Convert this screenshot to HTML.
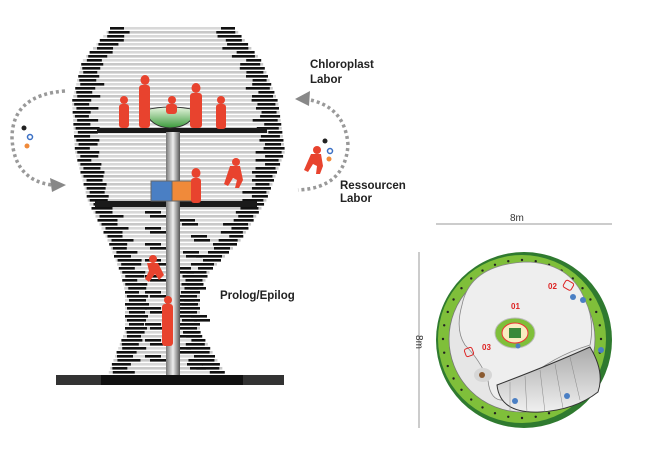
<!DOCTYPE html>
<html><head><meta charset="utf-8"><style>
html,body{margin:0;padding:0;background:#fff;}
svg{display:block;}
text{font-family:"Liberation Sans",sans-serif;}
</style></head><body>
<svg id="s" width="650" height="450" viewBox="0 0 650 450" xmlns="http://www.w3.org/2000/svg">
<defs>
<linearGradient id="pole" x1="0" x2="1"><stop offset="0" stop-color="#777"/><stop offset=".5" stop-color="#eee"/><stop offset="1" stop-color="#555"/></linearGradient>
<linearGradient id="bowl" x1="0" y1="0" x2="0" y2="1"><stop offset="0" stop-color="#e8f5e0"/><stop offset="1" stop-color="#3a9a3a"/></linearGradient>
<linearGradient id="amph" x1="0" y1="0" x2="0" y2="1"><stop offset="0" stop-color="#aaa"/><stop offset="1" stop-color="#f0f0f0"/></linearGradient>
</defs>
<g id="vase"></g>
<rect x="97" y="128" width="170" height="5" fill="#1a1a1a"/>
<rect x="95" y="201" width="162" height="6" fill="#1a1a1a"/>
<rect x="166" y="132" width="14" height="244" fill="url(#pole)"/>
<path d="M145 110 Q170 104 196 110 Q192 127 170 128 Q150 127 145 110Z" fill="url(#bowl)" stroke="#333" stroke-width="1"/>
<rect x="151" y="181" width="21" height="20" fill="#4a7fc4" stroke="#666"/>
<rect x="172" y="181" width="20" height="20" fill="#f08a3a" stroke="#666"/>
<rect x="56" y="375" width="228" height="10" fill="#333"/>
<rect x="101" y="375" width="142" height="10" fill="#111"/>
<g fill="#e8432e">
<ellipse cx="124" cy="100" rx="4" ry="4"/><rect x="119" y="104" width="10" height="24" rx="3"/>
<ellipse cx="145" cy="80" rx="4.5" ry="5"/><rect x="139" y="85" width="11" height="43" rx="3"/>
<ellipse cx="172" cy="100" rx="4" ry="4"/><rect x="166" y="104" width="11" height="10" rx="3"/>
<ellipse cx="196" cy="88" rx="4.5" ry="5"/><rect x="190" y="93" width="12" height="35" rx="3"/>
<ellipse cx="221" cy="100" rx="4" ry="4"/><rect x="216" y="104" width="10" height="25" rx="3"/>
<ellipse cx="196" cy="173" rx="4.5" ry="5"/><rect x="191" y="178" width="10" height="25" rx="3"/>
<ellipse cx="236" cy="162" rx="4" ry="4"/><path d="M230 166h10l3 14-4 8h-4l2-8-4-2-5 8-4-2z"/>
<ellipse cx="153" cy="259" rx="4" ry="4"/><path d="M147 263h11l6 12-5 5-4-6-6 8-4-3 4-8z"/>
<ellipse cx="168" cy="300" rx="4" ry="4"/><rect x="162" y="304" width="11" height="42" rx="3"/>
<ellipse cx="317" cy="150" rx="4" ry="4"/><path d="M311 154h10l2 12-3 8h-4l1-8-4-2-5 8-4-2z"/>
</g>
<g stroke-width="1.5" fill="#fff">
<circle cx="24" cy="128" r="2.5" fill="#222" stroke="none"/><circle cx="30" cy="137" r="2.5" stroke="#3a6fc4"/><circle cx="27" cy="146" r="2.5" fill="#f08a3a" stroke="none"/>
<circle cx="325" cy="141" r="2.5" fill="#222" stroke="none"/><circle cx="330" cy="151" r="2.5" stroke="#3a6fc4"/><circle cx="329" cy="159" r="2.5" fill="#f08a3a" stroke="none"/>
</g>
<g fill="none" stroke="#999" stroke-width="3.5" stroke-dasharray="3 3">
<path d="M65 91 Q12 95 12 138 Q14 180 52 185"/>
<path d="M305 99 Q345 105 348 145 Q345 188 298 190"/>
</g>
<polygon points="66,185 50,178 52,192" fill="#888"/>
<polygon points="295,99 310,91 309,106" fill="#888"/>
<g font-weight="bold" font-size="11.5" fill="#222">
<text x="310" y="68">Chloroplast</text><text x="310" y="83">Labor</text>
<text x="340" y="189">Ressourcen</text><text x="340" y="202">Labor</text>
<text x="220" y="299">Prolog/Epilog</text>
</g>
<text x="510" y="221" font-size="10" fill="#333">8m</text>
<line x1="436" y1="224" x2="612" y2="224" stroke="#bbb" stroke-width="1.5"/>
<line x1="419" y1="252" x2="419" y2="428" stroke="#bbb" stroke-width="1.5"/>
<text transform="translate(416,342) rotate(90)" font-size="10" fill="#333" text-anchor="middle">8m</text>
<circle cx="524" cy="340" r="88" fill="#2f7a2f"/>
<circle cx="522" cy="339" r="84" fill="#7fbf3a"/>
<g id="dots" fill="#222"></g>
<circle cx="522" cy="339" r="73" fill="#e6e6e6" stroke="#777" stroke-width="0.8"/>
<path d="M462 305 Q470 265 525 262 Q570 262 585 300 Q595 320 590 345 Q540 360 505 400 Q490 402 488 380 Q480 360 465 345 Q455 330 462 305Z" fill="#eeeeee" stroke="#888" stroke-width="0.8"/>
<path d="M497 385 Q550 365 590 347 Q605 372 598 392 Q575 410 540 412 Q500 414 497 385Z" fill="url(#amph)" stroke="#333" stroke-width="1"/>
<g stroke="#888" stroke-width="0.5" fill="none"><path d="M510 382 L510 410"/><path d="M525 376 L527 412"/><path d="M540 370 L545 412"/><path d="M555 364 L563 408"/><path d="M570 357 L580 400"/></g>
<ellipse cx="515" cy="333" rx="20" ry="15" fill="#7fbf3a" stroke="#bbb"/>
<ellipse cx="515" cy="333" rx="13" ry="10" fill="#f8edc0" stroke="#e33"/>
<rect x="509" y="328" width="12" height="10" fill="#3a8a3a"/>
<g font-size="8" font-weight="bold" fill="#d22">
<text x="511" y="309">01</text><text x="548" y="289">02</text><text x="482" y="350">03</text>
</g>
<rect x="564" y="281" width="9" height="8" rx="2" fill="none" stroke="#d22" transform="rotate(30 568 285)"/>
<rect x="465" y="348" width="8" height="8" rx="2" fill="none" stroke="#d22" transform="rotate(-20 469 352)"/>
<ellipse cx="483" cy="375" rx="9" ry="7" fill="#d6d6d6"/>
<circle cx="482" cy="375" r="3" fill="#8a5a30"/>
<g fill="#4a7fc4"><circle cx="573" cy="297" r="3"/><circle cx="583" cy="300" r="3"/><circle cx="601" cy="350" r="3"/><circle cx="567" cy="396" r="3"/><circle cx="515" cy="401" r="3"/><circle cx="518" cy="346" r="2.5"/></g>
</svg>
<script>
(function(){
var ns="http://www.w3.org/2000/svg";
var pts=[[27,110,235],[60,82,262],[100,72,278],[150,75,285],[200,88,266],[240,108,240],[270,120,210],[290,125,200],[330,125,200],[355,115,215],[373,108,226]];
function at(y){for(var i=0;i<pts.length-1;i++){var a=pts[i],b=pts[i+1];if(y>=a[0]&&y<=b[0]){var t=(y-a[0])/(b[0]-a[0]);return [a[1]+(b[1]-a[1])*t,a[2]+(b[2]-a[2])*t];}}return null;}
var g=document.getElementById("vase");
function r(x,y,w,h,c){var e=document.createElementNS(ns,"rect");e.setAttribute("x",x);e.setAttribute("y",y);e.setAttribute("width",Math.max(0,w));e.setAttribute("height",h);e.setAttribute("fill",c);g.appendChild(e);}
var k=0;
for(var y=27;y<=372;y+=4){var w=at(y);if(!w)continue;var L=w[0],R=w[1];
r(L,y,R-L,2.6,(k%2)?"#c8c8c8":"#d8d8d8");
var bl=14+((k*7)%11), br=14+((k*5)%13);
r(L+((k%3)*2),y,bl,2.6,"#111");r(R-br-((k%2)*3),y,br,2.6,"#111");
if(y>210&&y<370){var m=(k%4<2)?(175+(k*3)%20):(135+(k*5)%20);r(m,y,16,2.6,"#111");}
k++;}
var d=document.getElementById("dots");
for(var i=0;i<36;i++){var a=i/36*Math.PI*2;var c=document.createElementNS(ns,"circle");c.setAttribute("cx",522+79*Math.cos(a));c.setAttribute("cy",339+79*Math.sin(a));c.setAttribute("r",1.2);d.appendChild(c);}
})();
</script>
</body></html>
